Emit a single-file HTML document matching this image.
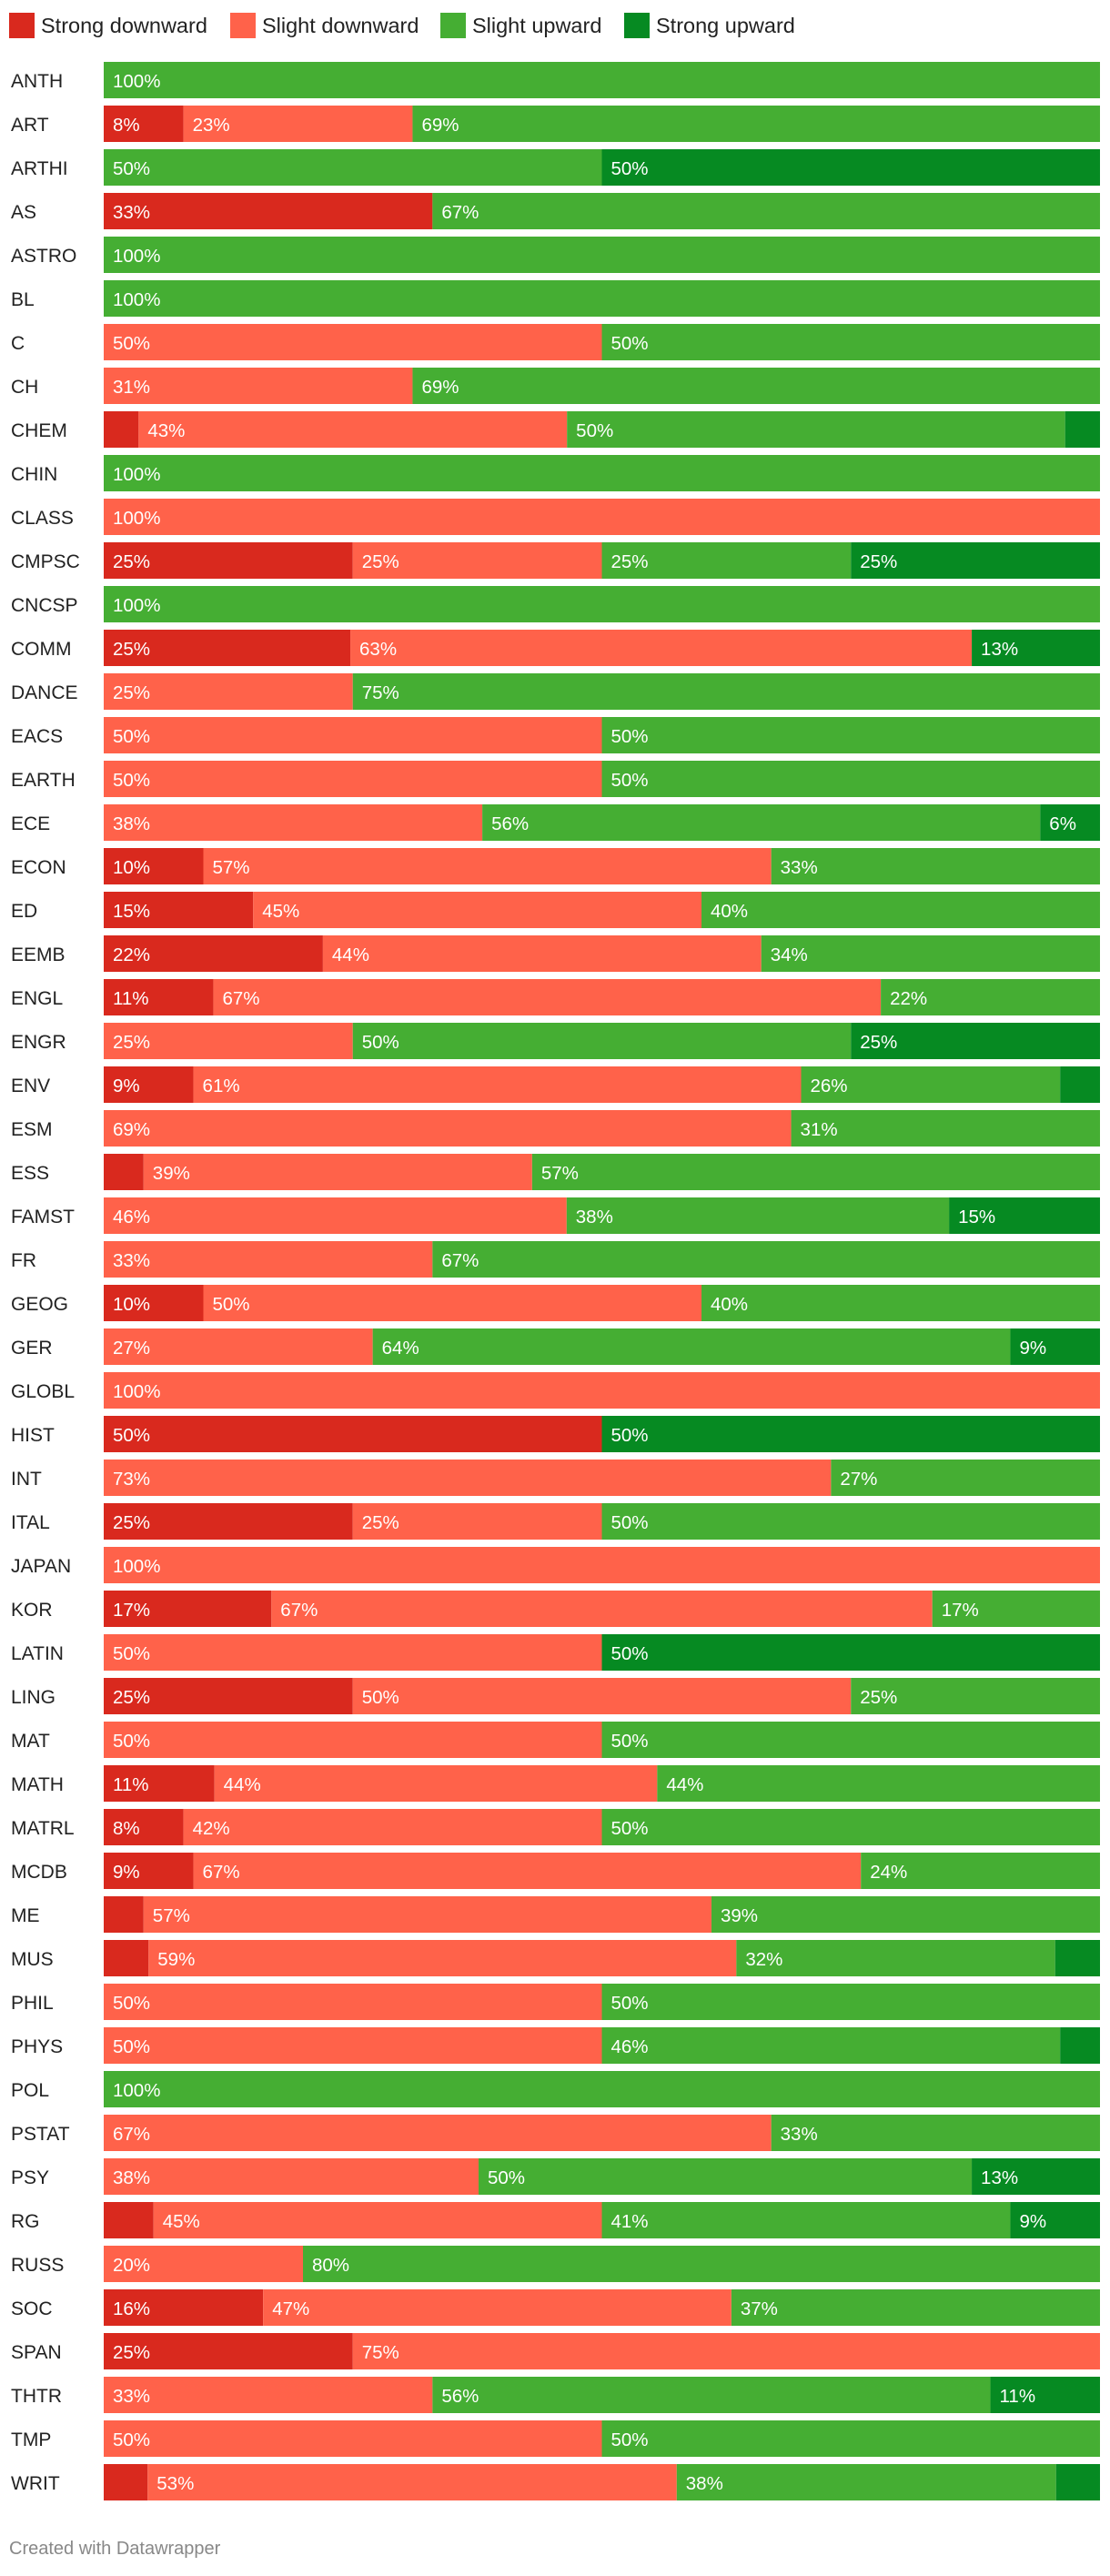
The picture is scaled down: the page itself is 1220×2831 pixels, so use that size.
<!DOCTYPE html>
<html><head><meta charset="utf-8">
<style>
html,body{margin:0;padding:0;background:#fff;}
body{width:1220px;height:2826px;position:relative;overflow:hidden;font-family:"Liberation Sans",sans-serif;}
svg text{font-family:"Liberation Sans",sans-serif;}
</style></head>
<body>
<svg id="chart" width="1220" height="2826" viewBox="0 0 1220 2826" xmlns="http://www.w3.org/2000/svg">
  <g>
    <g><rect x="10" y="14" width="28" height="28" fill="#d9291e"/><text x="45" y="36" font-size="23.5" fill="#222">Strong downward</text></g>
    <g><rect x="253" y="14" width="28" height="28" fill="#ff624a"/><text x="288" y="36" font-size="23.5" fill="#222">Slight downward</text></g>
    <g><rect x="484" y="14" width="28" height="28" fill="#45ae33"/><text x="519" y="36" font-size="23.5" fill="#222">Slight upward</text></g>
    <g><rect x="686" y="14" width="28" height="28" fill="#068a22"/><text x="721" y="36" font-size="23.5" fill="#222">Strong upward</text></g>
  </g>
  <g id="rows"></g>
  <text x="10" y="2807" font-size="20" fill="#888">Created with Datawrapper</text>
</svg>
<script>
const categories = ["ANTH","ART","ARTHI","AS","ASTRO","BL","C","CH","CHEM","CHIN","CLASS","CMPSC","CNCSP","COMM","DANCE","EACS","EARTH","ECE","ECON","ED","EEMB","ENGL","ENGR","ENV","ESM","ESS","FAMST","FR","GEOG","GER","GLOBL","HIST","INT","ITAL","JAPAN","KOR","LATIN","LING","MAT","MATH","MATRL","MCDB","ME","MUS","PHIL","PHYS","POL","PSTAT","PSY","RG","RUSS","SOC","SPAN","THTR","TMP","WRIT"];
const strongDown = [0,8,0,33,0,0,0,0,3.5,0,0,25,0,25,0,0,0,0,10,15,22,11,0,9,0,4,0,0,10,0,0,50,0,25,0,17,0,25,0,11,8,9,4,4.5,0,0,0,0,0,5,0,16,25,0,0,4.4];
const slightDown = [0,23,0,0,0,0,50,31,43,0,100,25,0,63,25,50,50,38,57,45,44,67,25,61,69,39,46,33,50,27,100,0,73,25,100,67,50,50,50,44,42,67,57,59,50,50,0,67,38,45,20,47,75,33,50,53];
const slightUp = [100,69,50,67,100,100,50,69,50,100,0,25,100,0,75,50,50,56,33,40,34,22,50,26,31,57,38,67,40,64,0,0,27,50,0,17,0,25,50,44,50,24,39,32,50,46,100,33,50,41,80,37,0,56,50,38];
const strongUp = [0,0,50,0,0,0,0,0,3.5,0,0,25,0,13,0,0,0,6,0,0,0,0,25,4,0,0,15,0,0,9,0,50,0,0,0,0,50,0,0,0,0,0,0,4.5,0,4,0,0,13,9,0,0,0,11,0,4.4];
const seriesNames = ["strong-downward","slight-downward","slight-upward","strong-upward"];
const series = [strongDown, slightDown, slightUp, strongUp];
const colors = ["#d9291e","#ff624a","#45ae33","#068a22"];

const NS = "http://www.w3.org/2000/svg";
const X0 = 114, X1 = 1209, Y0 = 68, PITCH = 48, BH = 40;
const xScale = (frac) => X0 + frac * (X1 - X0);
const yScale = (i) => Y0 + i * PITCH;
const g = document.getElementById("rows");

categories.forEach((cat, i) => {
  const row = document.createElementNS(NS, "g");
  
  
  const y = yScale(i);
  const lbl = document.createElementNS(NS, "text");
  
  
  lbl.setAttribute("x", 12); lbl.setAttribute("y", y + 28);
  lbl.setAttribute("font-size", "21"); lbl.setAttribute("fill", "#222");
  lbl.textContent = cat;
  row.appendChild(lbl);
  const total = series.reduce((s, arr) => s + arr[i], 0);
  let cum = 0;
  series.forEach((arr, k) => {
    const v = arr[i];
    if (!v) return;
    const xa = xScale(cum / total), xb = xScale((cum + v) / total);
    cum += v;
    const r = document.createElementNS(NS, "rect");
    
    
    r.setAttribute("x", xa); r.setAttribute("y", y);
    r.setAttribute("width", xb - xa); r.setAttribute("height", BH);
    r.setAttribute("fill", colors[k]);
    row.appendChild(r);
    if (xb - xa > 55) {
      const t = document.createElementNS(NS, "text");
      
      
      t.setAttribute("x", xa + 10); t.setAttribute("y", y + 28);
      t.setAttribute("font-size", "20.5"); t.setAttribute("fill", "#fff");
      t.textContent = Math.round(v) + "%";
      row.appendChild(t);
    }
  });
  g.appendChild(row);
});
</script>
</body></html>
